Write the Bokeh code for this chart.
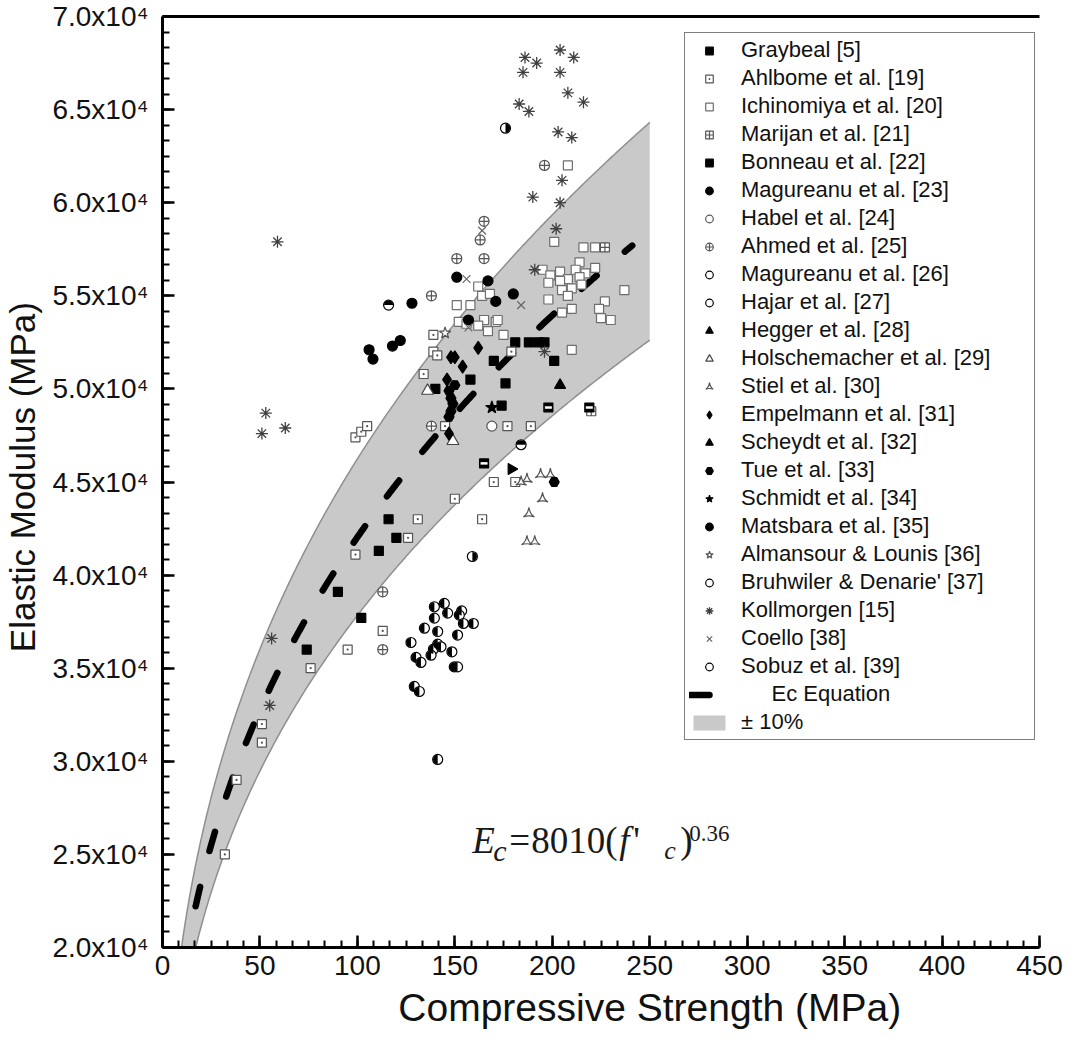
import numpy as np
from bokeh.plotting import figure
from bokeh.models import Range1d, FixedTicker, Legend, LegendItem, Label, LinearAxis
from bokeh.embed import file_html
from bokeh.resources import INLINE

# ---------------- data (MPa) ----------------
graybeal_x = [74, 90, 102, 111, 116, 120, 140, 158, 170, 174, 176, 181, 188, 193, 196, 201]
graybeal_y = [36000, 39100, 37700, 41300, 43000, 42000, 50000, 50500, 51500, 49100, 50300, 52500, 52500, 52500, 52500, 51500]

ahlbome_x = [32, 38, 51, 51, 76, 95, 99, 99, 102, 105, 113, 126, 131, 134, 139, 139, 141, 145, 150, 164, 170, 177, 181, 189, 179]
ahlbome_y = [25000, 29000, 31000, 32000, 35000, 36000, 41100, 47400, 47700, 48000, 37000, 42000, 43000, 50800, 52900, 52000, 51800, 48000, 44100, 43000, 45000, 48000, 45000, 48000, 52000]

ichinomiya_x = [151, 158, 162, 164, 168, 152, 156, 165, 171, 172, 175, 162, 167, 201, 208, 216, 222, 222, 214, 195, 204, 212, 217, 199, 208, 214, 198, 204, 215, 205, 210, 208, 198, 237, 227, 224, 225, 230, 210, 205, 210]
ichinomiya_y = [54500, 54500, 55500, 55000, 55100, 53600, 53500, 53700, 53600, 53700, 52900, 53400, 53100, 57900, 62000, 57600, 57600, 56500, 56800, 56400, 56300, 56400, 56200, 56100, 55900, 56000, 55700, 55800, 55600, 55300, 55400, 55000, 54800, 55300, 54700, 54300, 53800, 53700, 54300, 54100, 52100]

marijan_x = [227, 220]
marijan_y = [57600, 48800]

bonneau_x = [198, 219, 165]
bonneau_y = [49000, 49000, 46000]

magureanu23_x = [106, 108, 118, 122, 128, 151, 167, 171, 180]
magureanu23_y = [52100, 51600, 52300, 52600, 54600, 56000, 55800, 54700, 55100]

habel_x = [169]
habel_y = [48000]

ahmed_x = [113, 113, 138, 138, 151, 163, 165, 165, 196]
ahmed_y = [39100, 36000, 55000, 48000, 57000, 58000, 59000, 57000, 62000]

magureanu26_x = [116]
magureanu26_y = [54500]

hajar_x = [176, 159]
hajar_y = [64000, 41000]

hegger_x = [204]
hegger_y = [50200]

holschemacher_x = [136, 149]
holschemacher_y = [49900, 47200]

stiel_x = [187, 194, 199, 184, 195, 188, 187, 191]
stiel_y = [45150, 45400, 45400, 45000, 44100, 43300, 41800, 41800]

empelmann_x = [162, 148, 150, 154, 146, 147]
empelmann_y = [52200, 51700, 51700, 51200, 50500, 47600]

scheydt_x = [179]
scheydt_y = [45700]

tue_x = [150, 147, 148, 149, 148, 147, 201]
tue_y = [50200, 49900, 49500, 49200, 48800, 48500, 45000]

schmidt_x = [169]
schmidt_y = [49000]

matsbara_x = [157]
matsbara_y = [53700]

almansour_x = [145]
almansour_y = [53000]

bruhwiler_x = [184]
bruhwiler_y = [47000]

kollmorgen_x = [53, 51, 63, 59, 56, 55, 196, 191, 202, 204, 190, 205, 203, 210, 183, 188, 208, 216, 185, 204, 192, 186, 211, 204]
kollmorgen_y = [48700, 47600, 47900, 57900, 36600, 33000, 52000, 56400, 58600, 60000, 60300, 61200, 63800, 63500, 65300, 64900, 65900, 65400, 67000, 67000, 67500, 67800, 67800, 68200]

coello_x = [156, 184, 157, 164]
coello_y = [55900, 54500, 53300, 58500]

sobuz_x = [144.6, 139.5, 146.3, 139.5, 153.5, 152.3, 154.4, 159.5, 134.4, 141.2, 151.4, 127.5, 141.2, 139.0, 142.9, 137.8, 148.5, 130.1, 132.6, 149.7, 151.4, 129.2, 131.8, 141.2]
sobuz_y = [38480, 38300, 37960, 37690, 38080, 37850, 37400, 37400, 37150, 36970, 36780, 36380, 36290, 36020, 36150, 35700, 35880, 35580, 35310, 35070, 35070, 34020, 33750, 30100]

# Ec equation: Ec = 8010 (f'c)^0.36, band +-10 %
eq_coef = 8010
eq_exp = 0.36
band_frac = 0.10
eq_f_start, eq_f_end = 17, 241
band_f_start, band_f_end = 9, 250

x_ticks = [0, 50, 100, 150, 200, 250, 300, 350, 400, 450]
y_ticks = [20000, 25000, 30000, 35000, 40000, 45000, 50000, 55000, 60000, 65000, 70000]
y_tick_labels = {t: f"{t / 10000:.1f}x10\u2074" for t in y_ticks}

# ---------------- figure ----------------
p = figure(frame_width=877, frame_height=931,
           x_range=Range1d(0, 450), y_range=Range1d(20000, 70000),
           output_backend="svg", toolbar_location=None,
           min_border_left=155, min_border_top=16, min_border_right=30, min_border_bottom=93,
           background_fill_color="white", border_fill_color="white")
p.outline_line_color = None
p.grid.visible = False
xax = p.below[0]
yax = p.left[0]

fb = np.linspace(band_f_start, band_f_end, 300)
ec_b = eq_coef * fb ** eq_exp
band = p.varea(x=fb, y1=ec_b * (1 - band_frac), y2=ec_b * (1 + band_frac),
               fill_color="#c9c9c9", fill_alpha=1.0)
p.line(fb, ec_b * (1 + band_frac), line_color="#8f8f8f", line_width=1.5)
p.line(fb, ec_b * (1 - band_frac), line_color="#8f8f8f", line_width=1.5)

fe = np.linspace(eq_f_start, eq_f_end, 400)
eq_line = p.line(fe, eq_coef * fe ** eq_exp, line_color="black", line_width=6.5,
                 line_dash="20 37", line_cap="round")

S = 9
items = []

def sc(xs, ys, label, marker, fill, line, size=S, lw=1.2, angle=0.0):
    r = p.scatter(xs, ys, marker=marker, size=size, fill_color=fill, line_color=line,
                  line_width=lw, angle=angle)
    items.append(LegendItem(label=label, renderers=[r]))
    return r

def half(xs, ys, a0, a1, radius=4.6):
    return p.wedge(x=xs, y=ys, radius=radius, radius_units="screen",
                   start_angle=a0, end_angle=a1, fill_color="black", line_color=None)

sc(graybeal_x, graybeal_y, "Graybeal [5]", "square", "black", "black")
sc(ahlbome_x, ahlbome_y, "Ahlbome et al. [19]", "square_dot", "white", "#555555")
sc(ichinomiya_x, ichinomiya_y, "Ichinomiya et al. [20]", "square", "white", "#6e6e6e")
sc(marijan_x, marijan_y, "Marijan et al. [21]", "square_cross", "white", "#555555")
sc(bonneau_x, bonneau_y, "Bonneau et al. [22]", "square", "black", "black")
p.scatter(bonneau_x, bonneau_y, marker="dash", size=7, line_color="white", line_width=2.5)
sc(magureanu23_x, magureanu23_y, "Magureanu et al. [23]", "circle", "black", "black", size=10)
sc(habel_x, habel_y, "Habel et al. [24]", "circle", "white", "#555555", size=10)
sc(ahmed_x, ahmed_y, "Ahmed et al. [25]", "circle_cross", "white", "#555555", size=10)
sc(magureanu26_x, magureanu26_y, "Magureanu et al. [26]", "circle", "white", "black", size=10)
half(magureanu26_x, magureanu26_y, 0, np.pi)
sc(hajar_x, hajar_y, "Hajar et al. [27]", "circle", "white", "black", size=10)
half(hajar_x, hajar_y, -np.pi / 2, np.pi / 2)
sc(hegger_x, hegger_y, "Hegger et al. [28]", "triangle", "black", "black", size=11)
sc(holschemacher_x, holschemacher_y, "Holschemacher et al. [29]", "triangle", "white", "#444444", size=12)
sc(stiel_x, stiel_y, "Stiel et al. [30]", "triangle_pin", "white", "#555555", size=11)
sc(empelmann_x, empelmann_y, "Empelmann et al. [31]", "diamond", "black", "black", size=13)
sc(scheydt_x, scheydt_y, "Scheydt et al. [32]", "triangle", "black", "black", size=11, angle=-np.pi / 2)
sc(tue_x, tue_y, "Tue et al. [33]", "hex", "black", "black", size=10)
sc(schmidt_x, schmidt_y, "Schmidt et al. [34]", "star", "black", "black", size=13)
sc(matsbara_x, matsbara_y, "Matsbara et al. [35]", "circle", "black", "black", size=10)
sc(almansour_x, almansour_y, "Almansour & Lounis [36]", "star", "white", "#555555", size=12)
sc(bruhwiler_x, bruhwiler_y, "Bruhwiler & Denarie' [37]", "circle", "white", "black", size=10)
half(bruhwiler_x, bruhwiler_y, 0, np.pi)
sc(kollmorgen_x, kollmorgen_y, "Kollmorgen [15]", "asterisk", None, "#404040", size=12, lw=1.3)
sc(coello_x, coello_y, "Coello [38]", "x", None, "#666666", size=11, lw=1.2)
sc(sobuz_x, sobuz_y, "Sobuz et al. [39]", "circle", "white", "black", size=10)
half(sobuz_x, sobuz_y, np.pi / 2, 3 * np.pi / 2)

items.append(LegendItem(label="\u00a0\u00a0\u00a0\u00a0\u00a0Ec Equation", renderers=[eq_line]))
items.append(LegendItem(label="\u00b1 10%", renderers=[band]))

legend = Legend(items=items, location=(522, 207),
                label_text_font="Liberation Sans", label_text_font_size="22px",
                label_text_color="#111111",
                label_height=22, glyph_height=19, glyph_width=40, spacing=2,
                padding=4, label_standoff=12, label_width=289,
                border_line_color="black", border_line_width=1.5,
                background_fill_color="white", background_fill_alpha=1.0)
p.add_layout(legend)

# axes
xax.ticker = FixedTicker(ticks=x_ticks, minor_ticks=[i * 50 / 6 for i in range(55)])
yax.ticker = FixedTicker(ticks=y_ticks, minor_ticks=[20000 + i * 5000 / 6 for i in range(61)])
yax.major_label_overrides = y_tick_labels
nb = "\u00a0"
xax.axis_label = nb * 9 + "Compressive Strength (MPa)"
yax.axis_label = nb + "Elastic Modulus (MPa)"
for ax in (xax, yax):
    ax.axis_line_width = 3
    ax.axis_line_color = "black"
    ax.major_tick_in = 12
    ax.major_tick_out = 0
    ax.minor_tick_in = 7
    ax.minor_tick_out = 0
    ax.major_tick_line_width = 2.5
    ax.minor_tick_line_width = 2
    ax.major_label_text_font = "Liberation Sans"
    ax.major_label_text_font_size = "28px"
    ax.major_label_text_color = "#111111"
    ax.axis_label_text_font = "Liberation Sans"
    ax.axis_label_text_font_style = "normal"
    ax.axis_label_text_color = "#111111"
xax.axis_label_text_font_size = "39px"
yax.axis_label_text_font_size = "35px"
xax.major_label_standoff = 8
yax.major_label_standoff = 14
xax.axis_label_standoff = 8
yax.axis_label_standoff = 7

# top frame line: an axis above with no ticks or labels
top_axis = LinearAxis(ticker=FixedTicker(ticks=[], minor_ticks=[]), axis_line_width=3,
                      axis_line_color="black", major_tick_line_color=None,
                      minor_tick_line_color=None, major_label_standoff=0,
                      axis_label=None)
p.add_layout(top_axis, "above")

# equation annotation
eq_x, eq_y = 159, 25750
serif = "Liberation Serif"
parts = [
    ("E", 0, 0, "37px", "italic"),
    ("c", 21, -10, "30px", "italic"),
    ("=", 37, 0, "37px", "normal"),
    ("8010(", 59, 0, "37px", "normal"),
    ("f", 147, 0, "37px", "italic"),
    ("'", 161, 0, "37px", "normal"),
    ("c", 192, -10, "26px", "italic"),
    (")", 208, 0, "37px", "normal"),
    ("0.36", 217, 7, "23px", "normal"),
]
for txt, dx, dy, fs, st in parts:
    p.add_layout(Label(x=eq_x, y=eq_y, x_offset=dx, y_offset=dy, text=txt,
                       text_font=serif, text_font_size=fs, text_font_style=st,
                       text_color="#1a1a1a", text_baseline="alphabetic"))

open("out.html", "w").write(file_html(p, INLINE))
